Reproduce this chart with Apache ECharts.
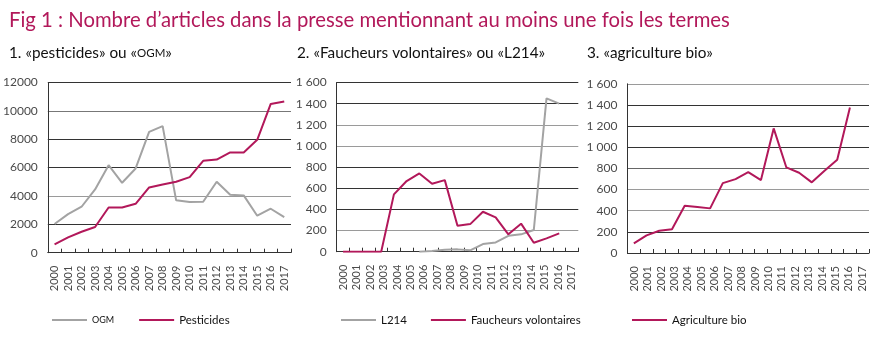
<!DOCTYPE html>
<html>
<head>
<meta charset="utf-8">
<script src="https://cdn.jsdelivr.net/npm/echarts@6/dist/echarts.min.js"></script>
<style>
html,body{margin:0;padding:0;background:#fff;}
#chart{width:883px;height:337px;}
</style>
</head>
<body>
<div id="chart"></div>
<script>
const years = ['2000','2001','2002','2003','2004','2005','2006','2007','2008','2009','2010','2011','2012','2013','2014','2015','2016','2017'];
// Charts 2 and 3: the reference plots its lines on 19 slots while labelling 18 years
const slotCategories = years.concat(['']);

const ogm        = [2020, 2720, 3240, 4460, 6170, 4930, 5940, 8520, 8920, 3690, 3570, 3590, 5000, 4090, 4040, 2610, 3100, 2510];
const pesticides = [590, 1080, 1480, 1810, 3190, 3190, 3450, 4600, 4810, 5000, 5330, 6480, 6570, 7070, 7070, 7960, 10490, 10660];

const l214       = [null, null, null, null, null, null, 0, 6, 19, 22, 13, 72, 88, 150, 164, 205, 1450, 1400];
const faucheurs  = [0, 0, 0, 0, 542, 668, 740, 642, 677, 246, 261, 378, 324, 164, 265, 85, 126, 173];

const agriBio    = [91, 167, 211, 224, 447, 435, 422, 661, 699, 764, 690, 1178, 809, 759, 668, 778, 882, 1376];

const ticks1 = {min: 0, max: 12000, interval: 2000};
const ticks23 = {min: 0, max: 1600, interval: 200};

const FONT = 'Lato';
const CRIMSON = '#b2185a';
const GREY = '#a3a3a3';
const DARK = '#333333';
const LIGHT = '#9a9a9a';

const chart = echarts.init(document.getElementById('chart'), null, {renderer: 'canvas'});

function plain(v) { return String(v); }
function frSep(v) { return String(v).replace(/\B(?=(\d{3})+(?!\d))/g, ' '); }

function yAxis(gridIndex, t, colors, fmt) {
  return {
    type: 'value', gridIndex: gridIndex, min: t.min, max: t.max, interval: t.interval,
    axisLine: {show: true, lineStyle: {color: DARK, width: 1}},
    axisTick: {show: false},
    axisLabel: {color: '#4a4a4a', fontFamily: FONT, fontSize: 12, margin: 10, formatter: fmt},
    splitLine: {show: true, lineStyle: {color: colors, width: 1}}
  };
}
function tickAxis(gridIndex, cats, showLabels) {
  return {
    type: 'category', gridIndex: gridIndex, data: cats, position: 'bottom', boundaryGap: true,
    axisLine: {show: true, lineStyle: {color: DARK, width: 1}},
    axisTick: {show: true, inside: true, length: 4, interval: 0, lineStyle: {color: DARK}},
    axisLabel: {show: showLabels, rotate: 90, interval: 0, color: '#4a4a4a', fontFamily: FONT, fontSize: 11, margin: 13},
    splitLine: {show: false}
  };
}
function labelAxis(gridIndex, cats) {
  return {
    type: 'category', gridIndex: gridIndex, data: cats, position: 'bottom', boundaryGap: true,
    axisLine: {show: false}, axisTick: {show: false},
    axisLabel: {show: true, rotate: 90, interval: 0, color: '#4a4a4a', fontFamily: FONT, fontSize: 11, margin: 13},
    splitLine: {show: false}
  };
}
function line(name, data, color, xi, yi, z) {
  return {
    name: name, type: 'line', data: data, xAxisIndex: xi, yAxisIndex: yi,
    symbol: 'none', showSymbol: false, connectNulls: false, z: z,
    lineStyle: {color: color, width: 2}, itemStyle: {color: color}, animation: false
  };
}
const subStyle = {color: '#111', fontFamily: FONT, fontSize: 15.3, fontWeight: 'normal',
  rich: {sc: {fontFamily: FONT, fontSize: 11.5, fontWeight: 'normal', color: '#111'}}};
const legText = {color: '#111', fontFamily: FONT, fontSize: 11.5};

chart.setOption({
  animation: false,
  title: [
    {text: 'Fig 1 : Nombre d’articles dans la presse mentionnant au moins une fois les termes',
     left: 4, top: 5, textStyle: {color: CRIMSON, fontFamily: FONT, fontSize: 20.3, fontWeight: 'normal'}},
    {text: '1. «pesticides» ou «{sc|OGM}»', left: 4, top: 41, textStyle: subStyle},
    {text: '2. «Faucheurs volontaires» ou «L214»', left: 292, top: 41, textStyle: subStyle},
    {text: '3. «agriculture bio»', left: 582, top: 41, textStyle: subStyle}
  ],
  grid: [
    {left: 47.5, top: 82.5, width: 243.5, height: 170.2},
    {left: 336.7, top: 82.5, width: 241.6, height: 169.2},
    {left: 627.5, top: 83.8, width: 241.5, height: 169.2}
  ],
  xAxis: [
    tickAxis(0, years, true),
    tickAxis(1, slotCategories, false),
    labelAxis(1, years),
    tickAxis(2, slotCategories, false),
    labelAxis(2, years)
  ],
  yAxis: [
    yAxis(0, ticks1, [DARK, DARK, LIGHT, DARK, DARK, '#777', DARK], plain),
    yAxis(1, ticks23, [DARK, LIGHT, DARK, DARK, DARK, LIGHT, LIGHT, DARK, DARK], frSep),
    yAxis(2, ticks23, [DARK, DARK, LIGHT, LIGHT, '#666', DARK, DARK, DARK, LIGHT], frSep)
  ],
  legend: [
    {data: ['OGM', 'Pesticides'], left: 47, top: 309, itemWidth: 35, itemHeight: 2, itemGap: 25, icon: 'rect',
     formatter: n => n === 'OGM' ? '{sc|OGM}' : n,
     textStyle: Object.assign({rich: {sc: {fontSize: 9, fontFamily: FONT, color: '#111'}}}, legText)},
    {data: ['L214', 'Faucheurs volontaires'], left: 336, top: 309, itemWidth: 35, itemHeight: 2, itemGap: 24, icon: 'rect',
     textStyle: legText},
    {data: ['Agriculture bio'], left: 627, top: 309, itemWidth: 35, itemHeight: 2, icon: 'rect',
     textStyle: legText}
  ],
  series: [
    line('OGM', ogm, GREY, 0, 0, 3),
    line('Pesticides', pesticides, CRIMSON, 0, 0, 4),
    line('L214', l214, GREY, 1, 1, 3),
    line('Faucheurs volontaires', faucheurs, CRIMSON, 1, 1, 4),
    line('Agriculture bio', agriBio, CRIMSON, 3, 2, 4)
  ]
});
</script>
</body>
</html>
